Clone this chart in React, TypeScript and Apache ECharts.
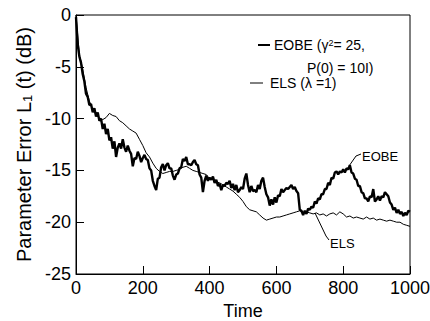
import React, { useEffect, useRef } from "react";
import * as echarts from "echarts";

// EOBE sampled every 5 time units (t = 0..1000)
const eobeStep = 5;
const eobeValues = [
  -0.2, -2.8, -4.0, -4.6, -5.7, -6.4, -7.6, -7.9, -8.7, -8.6,
  -9.4, -9.0, -9.8, -9.4, -10.2, -10.0, -11.0, -10.5, -11.5, -11.0,
  -12.1, -11.8, -12.9, -12.2, -13.7, -12.8, -12.4, -12.9, -12.0, -12.8,
  -13.2, -12.6, -13.1, -13.4, -14.6, -13.8, -13.9, -13.2, -13.6, -14.2,
  -13.8, -13.5, -13.9, -14.0, -14.8, -15.0, -16.0, -16.5, -16.9, -15.8,
  -15.7, -14.7, -14.4, -15.0, -14.5, -14.3, -14.8, -14.8, -15.5, -15.9,
  -15.4, -15.3, -14.8, -14.7, -13.9, -14.1, -13.7, -14.4, -14.4, -14.5,
  -14.2, -14.0, -14.4, -14.5, -15.4, -15.7, -17.1, -16.0, -15.5, -16.0,
  -15.7, -15.9, -15.6, -16.2, -15.9, -16.5, -16.3, -16.9, -16.4, -16.5,
  -16.2, -16.3, -16.0, -16.7, -16.3, -16.9, -16.4, -17.1, -16.9, -16.6,
  -16.8, -15.8, -15.3, -16.4, -17.1, -16.5, -17.0, -16.9, -17.1, -16.4,
  -16.8, -16.0, -15.7, -16.6, -17.3, -17.6, -18.4, -17.8, -18.3, -17.6,
  -18.1, -17.4, -17.5, -16.8, -17.1, -16.9, -16.7, -16.8, -16.6, -16.4,
  -16.8, -16.6, -17.0, -17.2, -18.8, -18.9, -19.3, -18.9, -19.2, -18.7,
  -18.8, -18.5, -18.6, -18.0, -18.2, -17.7, -17.8, -17.3, -17.3, -16.8,
  -16.8, -16.2, -16.4, -15.7, -15.8, -15.2, -15.1, -15.4, -15.1, -15.2,
  -14.9, -15.2, -14.8, -14.9, -14.5, -15.2, -15.3, -15.8, -15.9, -16.5,
  -16.5, -17.1, -17.2, -17.7, -17.7, -18.0, -17.5, -17.6, -16.8, -18.0,
  -17.8, -17.5, -17.9, -17.5, -17.6, -17.1, -17.3, -17.5, -18.1, -18.3,
  -18.8, -18.6, -19.1, -18.8, -19.2, -19.0, -19.4, -19.1, -19.3, -18.9,
  -19.0,
];

// ELS sampled every 10 time units (t = 0..1000)
const elsStep = 10;
const elsValues = [
  0.0, -3.8, -5.2, -7.0, -8.3, -9.1, -9.6, -10.0, -10.1, -9.9,
  -9.5, -9.7, -9.8, -10.2, -10.4, -10.7, -11.0, -11.2, -11.4, -12.0,
  -12.6, -13.3, -13.7, -14.3, -14.8, -15.1, -15.3, -15.2, -15.1, -15.1,
  -15.0, -14.9, -14.7, -14.6, -14.8, -15.0, -15.1, -15.2, -15.3, -15.4,
  -15.8, -15.9, -16.1, -16.2, -16.4, -16.6, -16.8, -17.0, -17.3, -17.6,
  -18.0, -18.5, -18.8, -18.9, -19.0, -19.3, -19.6, -19.8, -19.7, -19.6,
  -19.5, -19.5, -19.4, -19.3, -19.2, -19.1, -19.0, -18.9, -19.1, -19.0,
  -19.1, -19.2, -19.1, -19.3, -19.2, -19.4, -19.2, -19.1, -19.3, -19.0,
  -19.2, -19.5, -19.4, -19.6, -19.5, -19.6, -19.7, -19.5, -19.7, -19.6,
  -19.8, -19.7, -19.8, -19.9, -19.8, -19.9, -20.0, -20.0, -20.2, -20.3,
  -20.4,
];

const xTicks = { min: 0, max: 1000, interval: 200 };
const yTicks = { min: -25, max: 0, interval: 5 };

const FONT = "'Liberation Sans', Arial, Helvetica, sans-serif";

export default function App() {
  const ref = useRef<HTMLDivElement>(null);

  useEffect(() => {
    if (!ref.current) return;
    const chart = echarts.init(ref.current, null, { renderer: "svg" });
    const eobe = eobeValues.map((v, i) => [i * eobeStep, v]);
    const els = elsValues.map((v, i) => [i * elsStep, v]);

    chart.setOption({
      animation: false,
      textStyle: { fontFamily: FONT },
      grid: {
        left: 76,
        right: 20,
        top: 15,
        bottom: 47,
        show: true,
        borderColor: "#000",
        borderWidth: 1,
        containLabel: false,
        outerBoundsMode: "none",
      },
      xAxis: {
        type: "value",
        min: xTicks.min,
        max: xTicks.max,
        interval: xTicks.interval,
        axisLine: { show: true, onZero: false, lineStyle: { color: "#000", width: 1 } },
        axisTick: { show: true, inside: true, length: 8, lineStyle: { color: "#000" } },
        axisLabel: {
          color: "#000",
          fontSize: 18,
          margin: 5,
          fontFamily: FONT,
          formatter: (v: number) => String(v),
        },
        splitLine: { show: false },
        name: "Time",
        nameLocation: "middle",
        nameGap: 28,
        nameTextStyle: { color: "#000", fontSize: 18, fontFamily: FONT },
      },
      yAxis: {
        type: "value",
        min: yTicks.min,
        max: yTicks.max,
        interval: yTicks.interval,
        axisLine: { show: true, onZero: false, lineStyle: { color: "#000", width: 1 } },
        axisTick: { show: true, inside: true, length: 8, lineStyle: { color: "#000" } },
        axisLabel: {
          color: "#000",
          fontSize: 18,
          margin: 5,
          fontFamily: FONT,
          formatter: (v: number) => String(v),
        },
        splitLine: { show: false },
        name: "Parameter Error L{sub|1} (t) (dB)",
        nameLocation: "middle",
        nameGap: 40,
        nameTextStyle: {
          color: "#000",
          fontSize: 20,
          fontFamily: FONT,
          rich: {
            sub: { fontSize: 13, color: "#000", fontFamily: FONT, verticalAlign: "bottom", padding: [6, 0, 0, 0] },
          },
        },
      },
      series: [
        {
          name: "ELS",
          type: "line",
          data: els,
          showSymbol: false,
          lineStyle: { color: "#000", width: 1 },
          z: 2,
        },
        {
          name: "EOBE",
          type: "line",
          data: eobe,
          showSymbol: false,
          lineStyle: { color: "#000", width: 2.4 },
          z: 3,
        },
      ],
      graphic: [
        { type: "line", shape: { x1: 258, y1: 45, x2: 270, y2: 45 }, style: { stroke: "#000", lineWidth: 2 } },
        {
          type: "text",
          x: 274,
          y: 45,
          style: {
            text: "EOBE (γ{sup|2}= 25,",
            fontSize: 14,
            fontFamily: FONT,
            fill: "#000",
            verticalAlign: "middle",
            rich: { sup: { fontSize: 9, verticalAlign: "top", fill: "#000", fontFamily: FONT } },
          },
        },
        {
          type: "text",
          x: 307,
          y: 68,
          style: { text: "P(0) = 10I)", fontSize: 14, fontFamily: FONT, fill: "#000", verticalAlign: "middle" },
        },
        { type: "line", shape: { x1: 250, y1: 83, x2: 263, y2: 83 }, style: { stroke: "#000", lineWidth: 1 } },
        {
          type: "text",
          x: 270,
          y: 83,
          style: { text: "ELS (λ =1)", fontSize: 14, fontFamily: FONT, fill: "#000", verticalAlign: "middle" },
        },
        {
          type: "polyline",
          shape: { points: [[349, 166], [356, 156], [361, 154]] },
          style: { stroke: "#000", lineWidth: 1, fill: null },
        },
        {
          type: "text",
          x: 362,
          y: 156,
          style: { text: "EOBE", fontSize: 13, fontFamily: FONT, fill: "#000", verticalAlign: "middle" },
        },
        {
          type: "polyline",
          shape: { points: [[315, 213], [326, 236], [329, 240]] },
          style: { stroke: "#000", lineWidth: 1, fill: null },
        },
        {
          type: "text",
          x: 330,
          y: 243,
          style: { text: "ELS", fontSize: 13, fontFamily: FONT, fill: "#000", verticalAlign: "middle" },
        },
      ],
    });
    return () => chart.dispose();
  }, []);

  return (
    <div
      ref={ref}
      style={{ position: "absolute", left: 0, top: 0, width: 430, height: 321 }}
    />
  );
}
